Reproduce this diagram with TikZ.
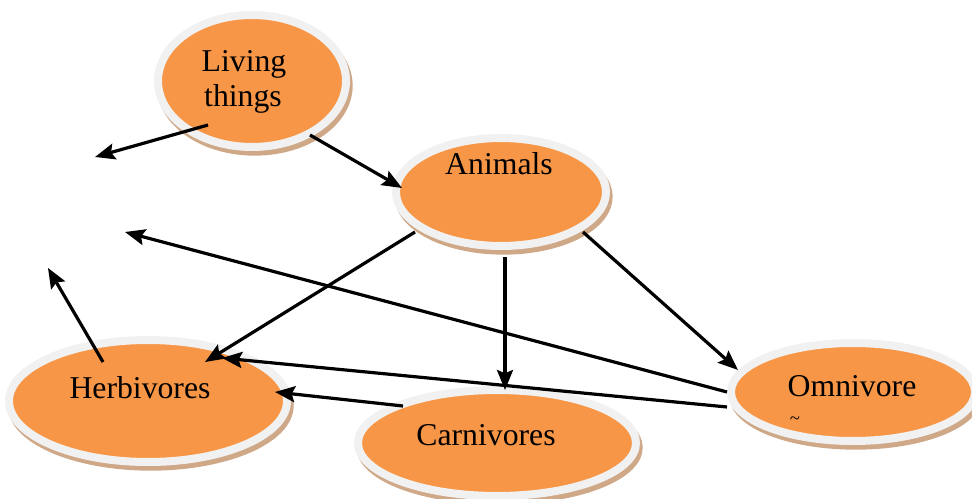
\documentclass[tikz,border=0pt]{standalone}
\usepackage{fontspec}
\setmainfont{Liberation Serif}
\usepackage{xcolor}
\usetikzlibrary{shapes.geometric, arrows.meta, calc}
\definecolor{blobfill}{HTML}{F79646}
\definecolor{blobrim}{HTML}{F1F1F1}
\definecolor{blobshade}{HTML}{CFA888}

\begin{document}
\begin{tikzpicture}[
    x=0.75pt, y=-0.75pt,
    blob/.style={
        ellipse, fill=blobfill, draw=blobrim, line width=6pt, inner sep=0pt,
        preaction={fill=blobshade, draw=blobshade, line width=6pt, transform canvas={shift={(2pt,-3.5pt)}}}
    },
    word/.style={font=\fontsize{23.8}{27}\selectfont, inner sep=0pt, anchor=base},
    arr/.style={line width=2.4pt, -{Stealth[length=15pt, width=12pt, inset=2.5pt]}}
]
\useasboundingbox (0,0) rectangle (972,499);

% --- ELLIPSEN ---
\node[blob, minimum width=141pt, minimum height=99pt] (living) at (252,81) {};
\node[blob, minimum width=157.5pt, minimum height=81pt] (animals) at (501,192) {};
\node[blob, minimum width=208.5pt, minimum height=91.5pt] (herbi) at (148,401) {};
\node[blob, minimum width=208.5pt, minimum height=79.5pt] (carni) at (497,443) {};
\node[blob, minimum width=183pt, minimum height=73.5pt] (omni) at (853,392) {};

% --- TEXTE ---
\node[word] (living-t) at (244,72) {Living};
\node[word] (living-t2) at (243,107) {things};
\node[word] (animals-t) at (499,175) {Animals};
\node[word] (herbi-t) at (140,398) {Herbivores};
\node[word] (carni-t) at (486,445) {Carnivores};
\node[word] (omni-t) at (852,397) {Omnivore};
\node[font=\fontsize{14}{14}\selectfont, inner sep=0pt] (omni-s) at (795,421) {\textasciitilde};

% --- FREIE ENDEN ---
\coordinate (gapA) at (95,157);
\coordinate (gapB) at (125,232);
\coordinate (gapC) at (48,268);

% --- PFEILE ---
\draw[arr] ($(living)+(-44,44)$) -- (gapA);
\draw[arr] ($(living)+(58,54)$) -- ($(animals)+(-99,-4)$);
\draw[arr] ($(animals)+(-86,40)$) -- ($(herbi)+(57,-39)$);
\draw[arr] ($(animals)+(4,65)$) -- ($(carni)+(8,-53)$);
\draw[arr] ($(animals)+(82,40)$) -- ($(omni)+(-115,-22)$);
\draw[arr] ($(omni)+(-126,0)$) -- (gapB);
\draw[arr] ($(omni)+(-126,15)$) -- ($(herbi)+(74,-43)$);
\draw[arr] ($(carni)+(-94,-37)$) -- ($(herbi)+(127,-9)$);
\draw[arr] ($(herbi)+(-45,-39)$) -- (gapC);
\end{tikzpicture}
\end{document}
